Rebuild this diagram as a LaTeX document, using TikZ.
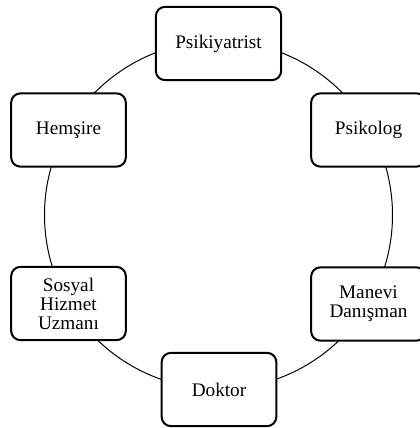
\documentclass[tikz,border=0pt]{standalone}
\usepackage{fontspec}
\setmainfont{Liberation Serif}
\usepackage{tikz}
\tikzset{ role_box/.style = {rectangle, rounded corners=7pt, draw, line width=1.5pt, fill=white, align=center, minimum width=86pt, minimum height=55pt, font=\fontsize{14.4}{14.3}\selectfont} }
\tikzset{ ring/.style = {line width=0.75pt} }

\begin{document}
\begin{tikzpicture}[x=0.75pt,y=-0.75pt]
            \useasboundingbox (0,0) rectangle (419,428);
            \coordinate (c) at (218.5,215);
            \draw[style=ring] (c) circle [radius=174];
            \node [style=role_box, minimum width=94pt] (psy) at (218.5, 43.5) {Psikiyatrist};
            \node [style=role_box] (psi) at (368.5, 130) {Psikolog};
            \node [style=role_box] (man) at (368.5, 304) {Manevi\\Danışman};
            \node [style=role_box] (dok) at (219, 389.5) {Doktor};
            \node [style=role_box] (sos) at (68.5, 303.5) {Sosyal\\Hizmet\\Uzmanı};
            \node [style=role_box] (hem) at (68.5, 130) {Hemşire};
    \end{tikzpicture}
\end{document}
